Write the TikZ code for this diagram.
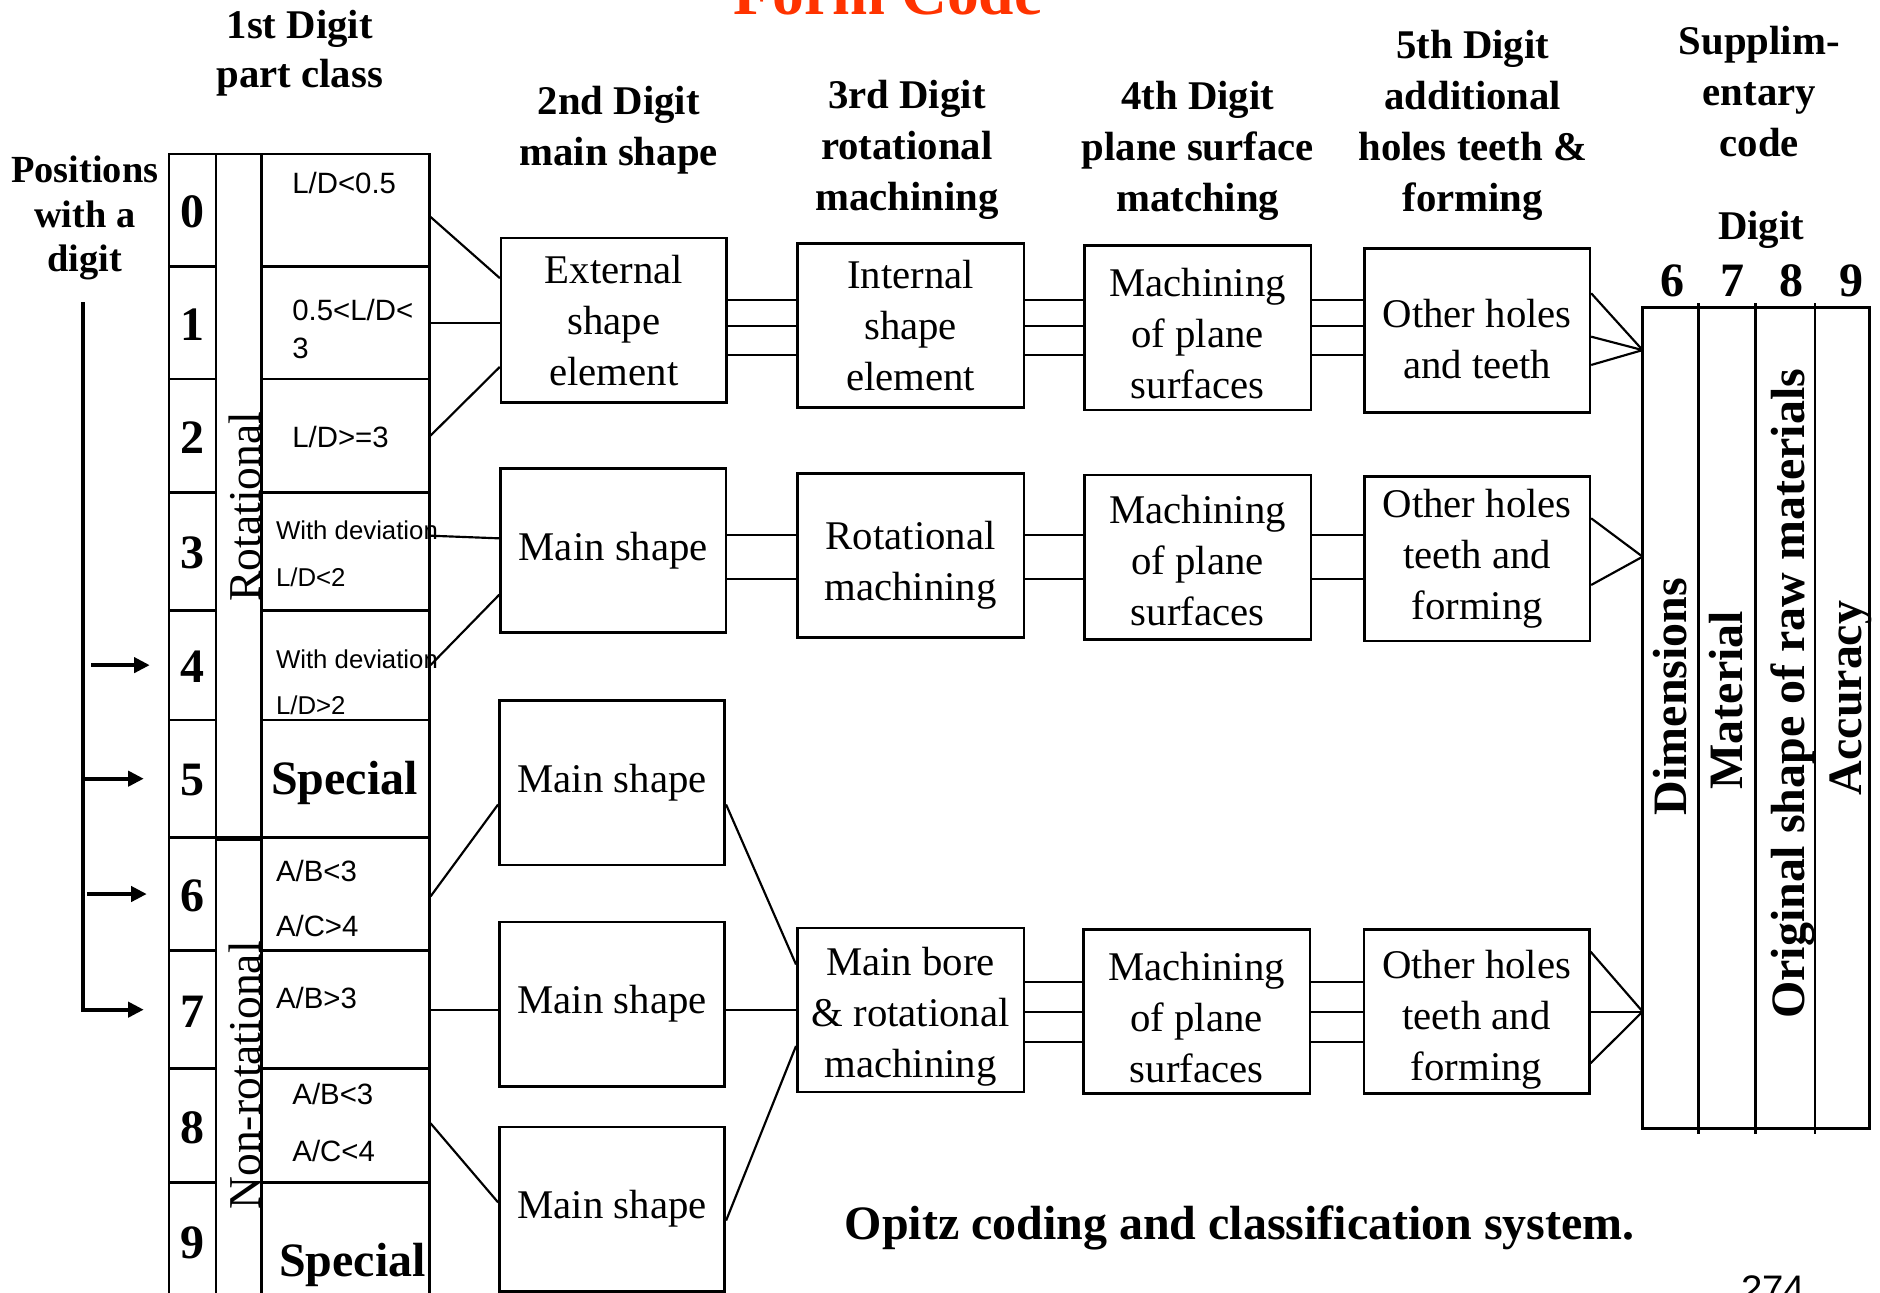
\documentclass[tikz,border=0pt]{standalone}
\usepackage{fontspec}
\setmainfont{Liberation Serif}
\setsansfont{Liberation Sans}
\usepackage{xcolor}
\usetikzlibrary{arrows.meta,fit}

\definecolor{titlered}{RGB}{255,51,0}

\begin{document}
\begin{tikzpicture}[
    x=1pt, y=-1pt,
    box/.style={rectangle, draw, line width=2.2pt, minimum width=188pt, minimum height=137pt, inner sep=0pt, align=center, font=\fontsize{34}{42.5}\selectfont},
    cell/.style={rectangle, draw, line width=2.2pt, inner sep=0pt},
    digit/.style={inner sep=0pt, font=\fontsize{40}{48}\selectfont\bfseries},
    head/.style={anchor=base, inner sep=0pt, align=center, font=\fontsize{34}{42.5}\selectfont\bfseries},
    crit/.style={anchor=base west, inner sep=0pt, font=\sffamily\fontsize{24.5}{30}\selectfont},
    critsmall/.style={crit, font=\sffamily\fontsize{21.5}{26}\selectfont},
    special/.style={anchor=base west, inner sep=0pt, font=\fontsize{40}{48}\selectfont\bfseries},
    classlabel/.style={rotate=90, anchor=base west, inner sep=0pt, font=\fontsize{38}{46}\selectfont},
    supplabel/.style={rotate=90, anchor=base west, inner sep=0pt, font=\fontsize{40}{48}\selectfont\bfseries},
    link/.style={line width=1.8pt},
    arrow/.style={-{Triangle[length=13pt,width=12.5pt]}, line width=3.2pt}
]
\useasboundingbox (0,0) rectangle (1568,1078);
\clip (0,0) rectangle (1568,1078);

% headings (anchored on the baseline of their last line)
\node[anchor=base, inner sep=0pt, text=titlered, font=\fontsize{53}{60}\selectfont\bfseries] (title) at (740.6,12.5) {Form Code};
\node[head, font=\fontsize{34}{41}\selectfont\bfseries] (h1) at (250,72.8) {1st Digit\\part class};
\node[head, font=\fontsize{32}{37.2}\selectfont\bfseries] (hpos) at (70.7,226.7) {Positions\\with a\\digit};
\node[head] (h2) at (516,138) {2nd Digit\\main shape};
\node[head] (h3) at (756.4,175.7) {3rd Digit\\rotational\\machining};
\node[head] (h4) at (999,176.5) {4th Digit\\plane surface\\matching};
\node[head] (h5) at (1228.4,176.5) {5th Digit\\additional\\holes teeth \&\\forming};
\node[head] (hsup) at (1467.4,130.7) {Supplim-\\entary\\code};
\node[head] (hdig) at (1468.8,199.6) {Digit};

% first digit table
\foreach \i/\ya/\yb in {0/128.5/222.4, 1/222.4/316, 2/316/410.6, 3/410.6/509, 4/509/600.5,
                        5/600.5/698.4, 6/698.4/792.9, 7/792.9/891.3, 8/891.3/986.4, 9/986.4/1084} {
    \node[cell, fit={(141,\ya) (180,\yb)}] (d\i) {};
    \node[digit] (n\i) at ([yshift=-1.5pt]d\i.center) {\i};
    \node[cell, fit={(218,\ya) (358,\yb)}] (c\i) {};
}
\node[cell, fit={(180,128.5) (218,698.4)}] (rot) {};
\node[cell, fit={(180,698.4) (218,1084)}] (nonrot) {};
\draw[line width=4.5pt] (rot.south west) -- (rot.south east);
\node[classlabel] (rotlab) at (217,502) {Rotational};
\node[classlabel] (nonrotlab) at (217,1009) {Non-rotational};

\node[crit] (t0) at (243.6,161.2) {L/D<0.5};
\node[crit] (t1a) at (243.6,266.9) {0.5<L/D<};
\node[crit] (t1b) at (243.6,298.8) {3};
\node[crit] (t2) at (243.6,373.5) {L/D>=3};
\node[critsmall] (t3a) at (230,449.7) {With deviation};
\node[critsmall] (t3b) at (230,489.1) {L/D<2};
\node[critsmall] (t4a) at (230,557.3) {With deviation};
\node[critsmall] (t4b) at (230,596.3) {L/D>2};
\node[special] (t5) at (226,663) {Special};
\node[crit] (t6a) at (230,735.3) {A/B<3};
\node[crit] (t6b) at (230,781.2) {A/C>4};
\node[crit] (t7) at (230,840.9) {A/B>3};
\node[crit] (t8a) at (243.7,921.6) {A/B<3};
\node[crit] (t8b) at (243.7,968.9) {A/C<4};
\node[special] (t9) at (232.7,1064.5) {Special};

% position arrows
\coordinate (ptop) at (69.5,252);
\draw[arrow] (ptop |- d4.west) ++(6.5,0) -- ([xshift=-15pt]d4.west);
\draw[arrow] (ptop |- d5.west) -- ([xshift=-20pt]d5.west);
\draw[arrow] (ptop |- d6.west) ++(3,0) -- ([xshift=-17.5pt]d6.west);
\draw[arrow] (ptop) |- ([xshift=-20pt]d7.west);

% digit boxes
\node[box] (ext) at (512,267) {External\\shape\\element};
\node[box] (ms1) at (511.5,459) {Main shape};
\node[box] (ms2) at (510.5,653) {Main shape};
\node[box] (ms3) at (510.5,837.5) {Main shape};
\node[box] (ms4) at (510.5,1008.5) {Main shape};

\node[box, minimum width=189pt] (int) at (759.5,271.5) {Internal\\shape\\element};
\node[box, minimum width=189pt, text height=82.7pt] (rotm) at (759.5,463.3) {Rotational\\machining};
\node[box, minimum width=189pt, text height=119.2pt] (bore) at (759.5,842.4) {Main bore\\\& rotational\\machining};

\node[box, minimum width=189pt, text height=118.2pt] (mps1) at (998.8,273.5) {Machining\\of plane\\surfaces};
\node[box, minimum width=189pt, text height=114.2pt] (mps2) at (998.8,464.6) {Machining\\of plane\\surfaces};
\node[box, minimum width=189pt, text height=119.2pt] (mps3) at (998,843.5) {Machining\\of plane\\surfaces};

\node[box, text height=80.7pt] (oht1) at (1232,275.6) {Other holes\\and teeth};
\node[box] (oht2) at (1232,466) {Other holes\\teeth and\\forming};
\node[box, text height=122.2pt] (oht3) at (1231.5,843.5) {Other holes\\teeth and\\forming};

% supplementary code block
\node[cell, fit={(1370,256.4) (1559,941)}] (supp) {};
\foreach \x in {1416.4,1464.3,1513.8}
    \draw[line width=2.2pt] (\x,253) -- (\x,946);
\foreach \n/\x in {6/1394.5, 7/1444.8, 8/1493.8, 9/1544}
    \node[anchor=base, inner sep=0pt, font=\fontsize{40}{48}\selectfont\bfseries] (sd\n) at (\x,247.4) {\n};
\node[supplabel] (dim) at (1406.7,680) {Dimensions};
\node[supplabel] (mat) at (1453.3,658.5) {Material};
\node[supplabel] (raw) at (1505.4,850) {Original shape of raw materials};
\node[supplabel] (acc) at (1552.6,663.4) {Accuracy};
\coordinate (s1) at (1370,292);
\coordinate (s2) at (1370,464.3);
\coordinate (s3) at (1370,843.7);

% table to second digit
\draw[link] ([yshift=-5.5pt]c0.east) -- ([yshift=35pt]ext.west);
\draw[link] (c1.east) -- (c1.east -| ext.west);
\draw[link] (c2.east) -- ([yshift=-39pt]ext.west);
\draw[link] ([yshift=13pt]c3.east) -- ([yshift=10pt]ms1.west);
\draw[link] (c4.east) -- ([yshift=-37pt]ms1.west);
\draw[link] ([yshift=-2pt]c6.east) -- ([yshift=-18pt]ms2.west);
\draw[link] (c7.east) -- (c7.east -| ms3.west);
\draw[link] ([yshift=2pt]c8.east) -- ([yshift=5.7pt]ms4.west);

% non-rotational parts join at the main bore
\draw[link] ([yshift=-18pt]ms2.east) -- ([yshift=38pt]bore.west);
\draw[link] (ms3.east |- bore.west) -- (bore.west);
\draw[link] ([yshift=-9.5pt]ms4.east) -- ([yshift=-30pt]bore.west);

% chains between digits
\foreach \y in {250,272,296} {
    \draw[link] (ext.east |- 0,\y) -- (int.west |- 0,\y);
    \draw[link] (int.east |- 0,\y) -- (mps1.west |- 0,\y);
    \draw[link] (mps1.east |- 0,\y) -- (oht1.west |- 0,\y);
}
\foreach \y in {446,483} {
    \draw[link] (ms1.east |- 0,\y) -- (rotm.west |- 0,\y);
    \draw[link] (rotm.east |- 0,\y) -- (mps2.west |- 0,\y);
    \draw[link] (mps2.east |- 0,\y) -- (oht2.west |- 0,\y);
}
\foreach \y in {819,844,869} {
    \draw[link] (bore.east |- 0,\y) -- (mps3.west |- 0,\y);
    \draw[link] (mps3.east |- 0,\y) -- (oht3.west |- 0,\y);
}

% into the supplementary code
\foreach \y in {244.6,280.8,304.4}
    \draw[link] (oht1.east |- 0,\y) -- (s1);
\foreach \y in {432.3,487.9}
    \draw[link] (oht2.east |- 0,\y) -- (s2);
\foreach \y in {793.7,843.7,886.8}
    \draw[link] (oht3.east |- 0,\y) -- (s3);

\node[anchor=base, inner sep=0pt, font=\fontsize{40}{48}\selectfont\bfseries] (caption) at (1034,1034) {Opitz coding and classification system.};
\node[anchor=base, inner sep=0pt, font=\sffamily\fontsize{32}{38}\selectfont] (page) at (1479,1086) {274};
\end{tikzpicture}
\end{document}
